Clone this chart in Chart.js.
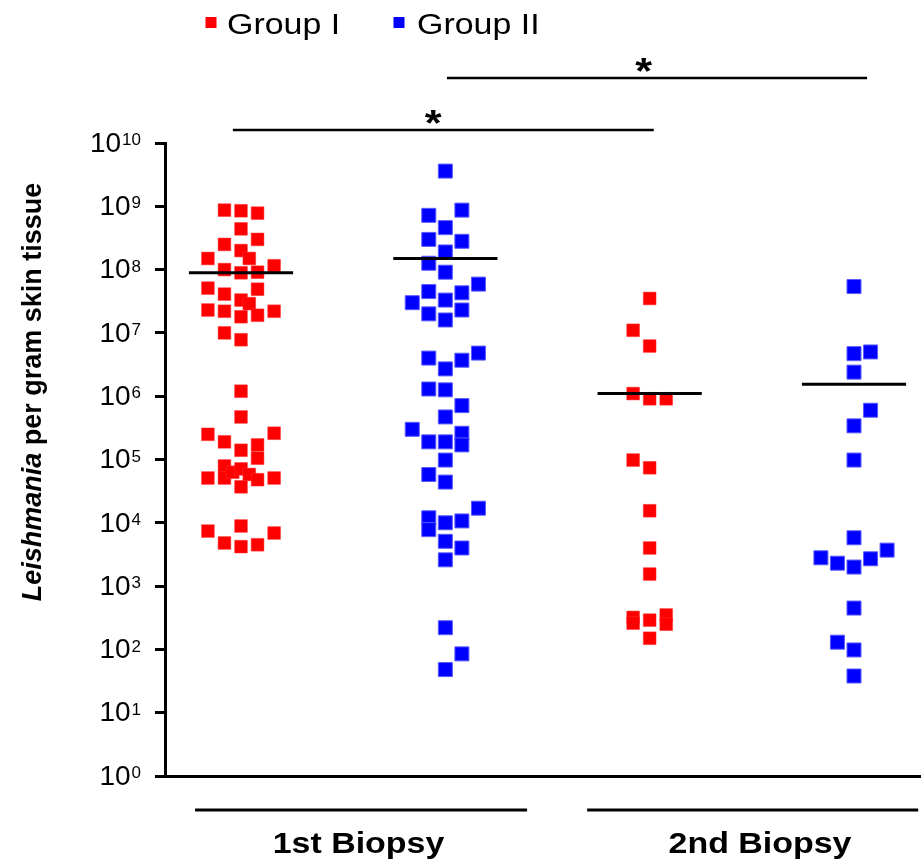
<!DOCTYPE html>
<html>
<head>
<meta charset="utf-8">
<script src="https://cdn.jsdelivr.net/npm/chart.js@4.4.1/dist/chart.umd.min.js"></script>
<style>
  body { margin: 0; background: #fff; }
  canvas { display: block; }
</style>
</head>
<body>
<canvas id="chart" width="921" height="862"></canvas>
<script>
// groups and their colours
const groupNames = ["Group I", "Group II"];
const groupColours = ["#ff0000", "#0000ff"];
const biopsyLabels = ["1st Biopsy", "2nd Biopsy"];
const yTicks = [1, 1e1, 1e2, 1e3, 1e4, 1e5, 1e6, 1e7, 1e8, 1e9, 1e10];

// Group I, 1st biopsy (parasites per gram) and jitter slot of each point
const g1FirstVals = [8.7e8, 8.5e8, 7.8e8, 4.4e8, 3.0e8, 2.5e8, 2.0e8, 1.5e8, 1.5e8, 1.15e8,
  1.0e8, 8.9e7, 9.1e7, 5.1e7, 4.9e7, 4.1e7, 3.3e7, 2.9e7, 2.3e7, 2.2e7,
  2.2e7, 1.8e7, 1.9e7, 1.0e7, 7.8e6, 1.2e6, 4.7e5, 2.5e5, 2.6e5, 1.9e5,
  1.7e5, 1.4e5, 1.05e5, 7.9e4, 5.1e4, 6.3e4, 7.1e4, 5.8e4, 4.8e4, 5.1e4,
  5.1e4, 3.7e4, 7.4e3, 8.9e3, 6.9e3, 4.8e3, 4.2e3, 4.5e3];
const g1FirstSlots = [-1, 0, 1, 0, 1, -1, 0, 0.5, -2, 2,
  -1, 0, 1, -2, 1, -1, 0, 0.5, -2, -1,
  2, 0, 1, -1, 0, 0, 0, -2, 2, -1,
  1, 0, 1, -1, -1, -0.5, 0, 0.5, 1, -2,
  2, 0, -2, 0, 2, -1, 0, 1];

// Group II, 1st biopsy
const g2FirstVals = [3.6e9, 7.2e8, 8.7e8, 4.6e8, 3.0e8, 2.8e8, 1.9e8, 1.26e8, 9.1e7, 5.9e7,
  4.5e7, 4.3e7, 3.0e7, 3.3e7, 2.0e7, 2.3e7, 1.6e7, 4.0e6, 4.8e6, 3.7e6,
  2.7e6, 1.3e6, 1.26e6, 7.1e5, 4.7e5, 3.0e5, 1.9e5, 1.9e5, 2.6e5, 1.7e5,
  9.8e4, 5.8e4, 4.4e4, 1.7e4, 1.2e4, 7.8e3, 1.0e4, 1.07e4, 5.1e3, 4.0e3,
  2.6e3, 220, 85, 48];
const g2FirstSlots = [0, -1, 1, 0, -1, 1, 0, -1, 0, 2,
  -1, 1, -2, 0, -1, 1, 0, -1, 2, 1,
  0, -1, 0, 1, 0, -2, -1, 0, 1, 1,
  0, -1, 0, 2, -1, -1, 0, 1, 0, 1,
  0, 0, 1, 0];

// Group I, 2nd biopsy
const g1SecondVals = [3.5e7, 1.1e7, 6.2e6, 1.1e6, 9.1e5, 9.1e5, 9.8e4, 7.4e4, 1.55e4, 4.0e3,
  1.55e3, 320, 260, 290, 350, 250, 150];
const g1SecondSlots = [0, -1, 0, -1, 0, 1, -1, 0, 0, 0, 0, -1, -1, 0, 1, 1, 0];

// Group II, 2nd biopsy
const g2SecondVals = [5.4e7, 4.7e6, 5.0e6, 2.4e6, 6.0e5, 3.4e5, 9.8e4, 5.8e3, 2.8e3, 2.3e3,
  2.0e3, 2.7e3, 3.7e3, 450, 130, 98, 38];
const g2SecondSlots = [0, 0, 1, 0, 1, 0, 0, 0, -2, -1, 0, 1, 2, 0, -1, 0, 0];

// group means (black bars), one per column
const meanVals = [8.9e7, 1.5e8, 1.1e6, 1.55e6];

const FONT = "'Liberation Sans', Arial, sans-serif";
const STEP = 0.081;       // x distance between jitter slots
const HALF_MEAN = 0.255;  // half width of the mean bar

function toPoints(vals, slots, col) {
  return vals.map((v, i) => ({ x: col + slots[i] * STEP, y: v }));
}

const meanSets = meanVals.map((m, i) => ({
  type: "line",
  data: [{ x: i + 1 - HALF_MEAN, y: m }, { x: i + 1 + HALF_MEAN, y: m }],
  borderColor: "#000",
  borderWidth: 3,
  pointRadius: 0,
  order: 0
}));

const pointSets = [
  { label: groupNames[0], data: toPoints(g1FirstVals, g1FirstSlots, 1).concat(toPoints(g1SecondVals, g1SecondSlots, 3)),
    backgroundColor: groupColours[0], borderColor: "#ff3030", borderWidth: 0.5, pointStyle: "rect", pointRadius: 9, order: 1 },
  { label: groupNames[1], data: toPoints(g2FirstVals, g2FirstSlots, 2).concat(toPoints(g2SecondVals, g2SecondSlots, 4)),
    backgroundColor: groupColours[1], borderColor: "#5a5aff", borderWidth: 1, pointStyle: "rect", pointRadius: 9.9, order: 1 }
];

function line(ctx, x1, y1, x2, y2, w) {
  ctx.beginPath();
  ctx.lineWidth = w;
  ctx.moveTo(x1, y1);
  ctx.lineTo(x2, y2);
  ctx.stroke();
}

// text drawn a bit wider than the font, like the original figure
function wideText(ctx, txt, x, y, font, sx, align) {
  ctx.save();
  ctx.font = font;
  ctx.translate(x, y);
  ctx.scale(sx, 1);
  ctx.textAlign = align;
  ctx.fillText(txt, 0, 0);
  ctx.restore();
}

const decorations = {
  id: "decorations",
  afterDraw(chart) {
    const ctx = chart.ctx;
    const xs = chart.scales.x, ys = chart.scales.y;
    ctx.save();
    ctx.fillStyle = "#000";
    ctx.strokeStyle = "#000";

    // y tick labels 10^n
    yTicks.forEach((t, n) => {
      const y = ys.getPixelForValue(t);
      const exp = String(n);
      ctx.font = "17px " + FONT;
      const ew = ctx.measureText(exp).width;
      ctx.textAlign = "right";
      ctx.textBaseline = "top";
      ctx.fillText(exp, 141, y - 11);
      ctx.font = "28px " + FONT;
      ctx.textBaseline = "middle";
      ctx.fillText("10", 140 - ew, y + 1);
    });

    // y axis title, rotated
    ctx.save();
    ctx.translate(41, 392);
    ctx.rotate(-Math.PI / 2);
    const p1 = "Leishmania", p2 = " per gram skin tissue";
    ctx.font = "italic bold 27px " + FONT;
    const w1 = ctx.measureText(p1).width;
    ctx.font = "bold 27px " + FONT;
    const w2 = ctx.measureText(p2).width;
    ctx.textAlign = "left";
    ctx.textBaseline = "alphabetic";
    ctx.font = "italic bold 27px " + FONT;
    ctx.fillText(p1, -(w1 + w2) / 2, 0);
    ctx.font = "bold 27px " + FONT;
    ctx.fillText(p2, -(w1 + w2) / 2 + w1, 0);
    ctx.restore();

    // biopsy brackets and labels
    const brackets = [[0.775, 2.40, 1.575], [2.694, 4.314, 3.54]];
    ctx.textBaseline = "alphabetic";
    brackets.forEach((b, i) => {
      line(ctx, xs.getPixelForValue(b[0]), 810, xs.getPixelForValue(b[1]), 810, 3);
      wideText(ctx, biopsyLabels[i], xs.getPixelForValue(b[2]), 853, "bold 29px " + FONT, 1.17, "center");
    });

    // significance bars: [from, to, star position] in x units, bar y in px
    const sig = [[0.96, 3.02, 1.94, 130], [2.008, 4.064, 2.97, 78]];
    sig.forEach(s => {
      const a = xs.getPixelForValue(s[0]), b = xs.getPixelForValue(s[1]);
      line(ctx, a, s[3], b, s[3], 2.5);
      wideText(ctx, "*", xs.getPixelForValue(s[2]), s[3] + 6, "bold 36px " + FONT, 1.2, "center");
    });

    // legend
    const leg = [[211, 227], [399, 417]];
    leg.forEach((l, i) => {
      ctx.fillStyle = groupColours[i];
      ctx.fillRect(l[0] - 5.5, 17, 11, 11);
      ctx.fillStyle = "#000";
      ctx.textBaseline = "alphabetic";
      wideText(ctx, groupNames[i], l[1], 34, "29px " + FONT, 1.17, "left");
    });
    ctx.restore();
  }
};

new Chart(document.getElementById("chart"), {
  type: "scatter",
  data: { datasets: meanSets.concat(pointSets) },
  options: {
    responsive: false,
    animation: false,
    layout: { autoPadding: false, padding: { left: 153, right: 1, top: 143, bottom: 84 } },
    plugins: { legend: { display: false }, tooltip: { enabled: false } },
    scales: {
      x: {
        type: "linear", min: 0.628, max: 4.323,
        grid: { display: false },
        ticks: { display: false },
        border: { color: "#000", width: 3 },
        afterFit: s => { s.height = 2; }
      },
      y: {
        type: "logarithmic", min: 1, max: 1e10,
        grid: { drawOnChartArea: false, drawTicks: true, tickLength: 10, color: "#000", lineWidth: 3 },
        ticks: { display: false },
        border: { color: "#000", width: 3 },
        afterBuildTicks: s => { s.ticks = yTicks.map(v => ({ value: v })); },
        afterFit: s => { s.width = 12; }
      }
    }
  },
  plugins: [decorations]
});
</script>
</body>
</html>
